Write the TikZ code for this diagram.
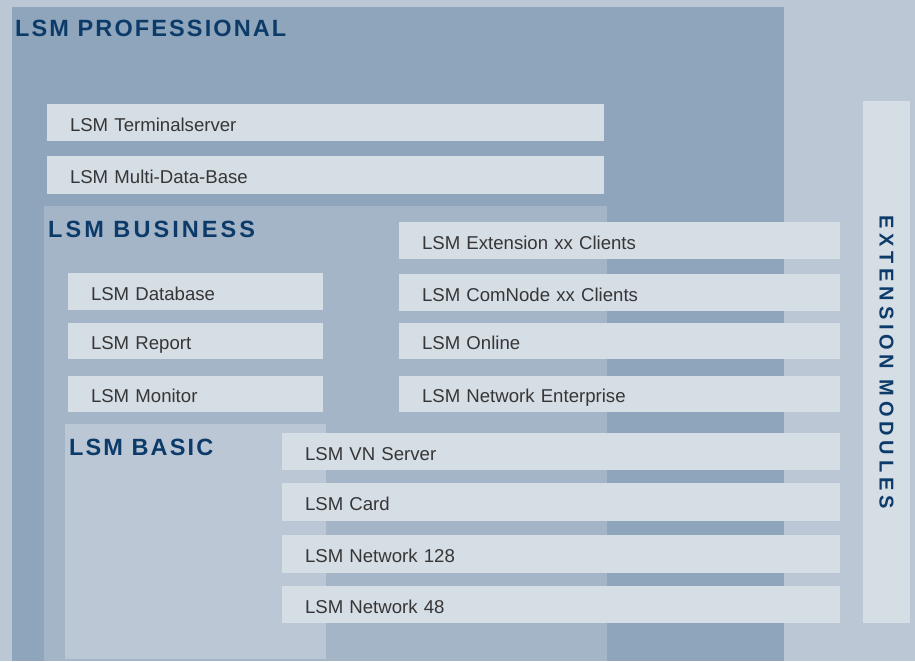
\documentclass[tikz,border=0pt]{standalone}
\usepackage{fontspec}
\setmainfont{Liberation Sans}
\newfontfamily\titlefont[LetterSpace=9]{Liberation Sans}
\newfontfamily\titlewidefont[LetterSpace=13]{Liberation Sans}
\newfontfamily\extfont[LetterSpace=24]{Liberation Sans}
\definecolor{bgc}{HTML}{BBC7D5}
\definecolor{profc}{HTML}{8FA5BB}
\definecolor{busc}{HTML}{A4B5C7}
\definecolor{basc}{HTML}{BBC7D5}
\definecolor{boxc}{HTML}{D5DDE5}
\definecolor{titc}{HTML}{0C3B69}
\definecolor{txtc}{HTML}{363636}
\tikzset{
  mod/.style={fill=boxc, inner xsep=23pt, inner ysep=0pt, outer sep=0pt,
    text height=17pt, text depth=0pt, align=left, anchor=north west,
    font=\fontsize{18.6}{20}\selectfont, text=txtc},
  tier/.style={inner sep=0pt, anchor=base west, text=titc,
    font=\titlefont\bfseries\fontsize{23.5}{26}\selectfont},
}
\begin{document}
\begin{tikzpicture}[x=1pt,y=-1pt]
\useasboundingbox (0,0) rectangle (915,661);
\fill[bgc] (0,0) rectangle (915,661);
\fill[profc] (12,7) rectangle (784,661);
\fill[busc] (44,206) rectangle (607,661);
\fill[basc] (65,424) rectangle (326,659);

\node[tier] (tprof) at (15,37) {LSM PROFESSIONAL};
\node[tier, font=\titlewidefont\bfseries\fontsize{23.5}{26}\selectfont] (tbus) at (48,237.7) {LSM BUSINESS};
\node[tier] (tbas) at (69,455) {LSM BASIC};

\node[mod, text width=511pt, minimum height=37pt] (ts) at (47,104) {LSM Terminalserver};
\node[mod, text width=511pt, minimum height=38pt] (mdb) at (47,156) {LSM Multi-Data-Base};

\node[mod, text width=209pt, minimum height=37pt] (db) at (68,273) {LSM Database};
\node[mod, text width=209pt, minimum height=36pt] (rep) at (68,323) {LSM Report};
\node[mod, text width=209pt, minimum height=36pt] (mon) at (68,376) {LSM Monitor};

\node[mod, text width=395pt, minimum height=37pt] (extc) at (399,222) {LSM Extension xx Clients};
\node[mod, text width=395pt, minimum height=37pt] (com) at (399,274) {LSM ComNode xx Clients};
\node[mod, text width=395pt, minimum height=36pt] (onl) at (399,323) {LSM Online};
\node[mod, text width=395pt, minimum height=36pt] (nete) at (399,376) {LSM Network Enterprise};

\node[mod, text width=512pt, minimum height=37pt] (vn) at (282,433) {LSM VN Server};
\node[mod, text width=512pt, minimum height=38pt] (card) at (282,483) {LSM Card};
\node[mod, text width=512pt, minimum height=38pt] (n128) at (282,535) {LSM Network 128};
\node[mod, text width=512pt, minimum height=37pt] (n48) at (282,586) {LSM Network 48};

\node[fill=boxc, rotate=-90, minimum width=522pt, minimum height=47pt, inner sep=0pt,
  outer sep=0pt, text=titc, font=\extfont\bfseries\fontsize{20}{22}\selectfont]
  (extm) at (886.5,362) {EXTENSION MODULES};
\end{tikzpicture}
\end{document}
